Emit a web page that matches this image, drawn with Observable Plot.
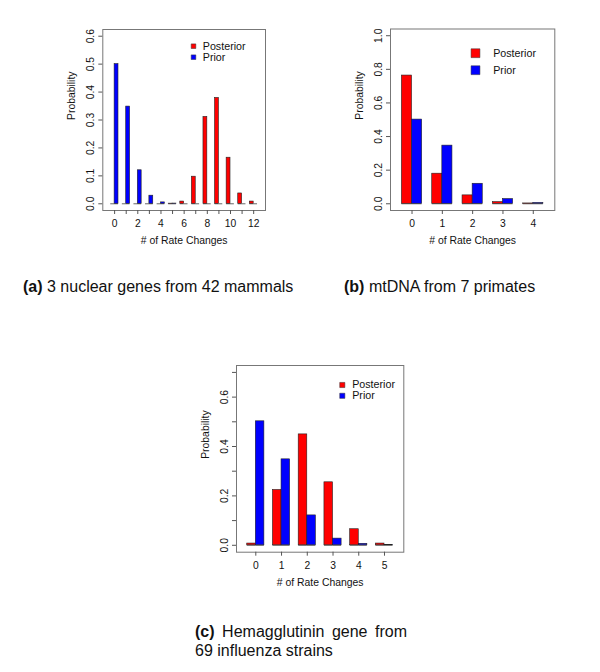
<!DOCTYPE html>
<html>
<head>
<meta charset="utf-8">
<script src="https://cdn.jsdelivr.net/npm/d3@7"></script>
<script src="https://cdn.jsdelivr.net/npm/@observablehq/plot@0.6"></script>
<style>
  html, body { margin: 0; padding: 0; background: #fff; }
  #root { position: relative; width: 600px; height: 672px; overflow: hidden;
          font-family: "Liberation Sans", Arial, Helvetica, sans-serif; color: #111; }
  .panel { position: absolute; }
  .cap { position: absolute; font-size: 16px; line-height: 19px; white-space: nowrap; }
  .cap b { font-weight: bold; }
  .just { text-align: justify; text-align-last: justify; white-space: normal; }
</style>
</head>
<body>
<div id="root"></div>
<script>
// ---------- data ----------
const seriesNames = ["Posterior", "Prior"];
const seriesColors = ["#ff0000", "#0000ff"];
const xTitle = "# of Rate Changes";
const yTitle = "Probability";

// (a) 3 nuclear genes from 42 mammals
const changesA = [0, 1, 2, 3, 4, 5, 6, 7, 8, 9, 10, 11, 12];
const posteriorA = [0, 0, 0, 0, 0, 0.0005, 0.008, 0.097, 0.311, 0.379, 0.165, 0.037, 0.008];
const priorA = [0.5, 0.348, 0.12, 0.029, 0.005, 0.0008, 0, 0, 0, 0, 0, 0, 0];
const xLabelsA = [0, 2, 4, 6, 8, 10, 12];
const yTicksA = [0, 0.1, 0.2, 0.3, 0.4, 0.5, 0.6];
const yLabelsA = [0, 0.1, 0.2, 0.3, 0.4, 0.5, 0.6];

// (b) mtDNA from 7 primates
const changesB = [0, 1, 2, 3, 4];
const posteriorB = [0.763, 0.179, 0.05, 0.01, 0.002];
const priorB = [0.501, 0.346, 0.119, 0.028, 0.005];
const xLabelsB = [0, 1, 2, 3, 4];
const yTicksB = [0, 0.2, 0.4, 0.6, 0.8, 1.0];
const yLabelsB = [0, 0.2, 0.4, 0.6, 0.8, 1.0];

// (c) Hemagglutinin gene from 69 influenza strains
const changesC = [0, 1, 2, 3, 4, 5];
const posteriorC = [0.007, 0.224, 0.449, 0.255, 0.065, 0.007];
const priorC = [0.502, 0.348, 0.121, 0.027, 0.006, 0.001];
const xLabelsC = [0, 1, 2, 3, 4, 5];
const yTicksC = [0, 0.1, 0.2, 0.3, 0.4, 0.5, 0.6, 0.7];
const yLabelsC = [0, 0.2, 0.4, 0.6];

const captionA = ["(a)", "3 nuclear genes from 42 mammals"];
const captionB = ["(b)", "mtDNA from 7 primates"];
const captionC = ["(c)", "Hemagglutinin gene from", "69 influenza strains"];

// ---------- helpers ----------
const FONT = "Liberation Sans, Arial, Helvetica, sans-serif";
const BW = 1 / 3; // bar width in category units

function rows(changes, post, prior) {
  const out = [];
  changes.forEach((k, i) => {
    out.push({k, s: seriesNames[0], v: post[i]});
    out.push({k, s: seriesNames[1], v: prior[i]});
  });
  return out;
}

function panel(cfg) {
  const data = rows(cfg.changes, cfg.post, cfg.prior);
  const x1 = d => d.s === seriesNames[0] ? d.k - BW : d.k;
  const x2 = d => d.s === seriesNames[0] ? d.k : d.k + BW;
  const legendMarks = seriesNames.flatMap((name, i) => [
    Plot.dot([name], {x: null, y: null, frameAnchor: "top-left",
      dx: cfg.leg.sqDx, dy: cfg.leg.dy0 + i * cfg.leg.step,
      symbol: "square", r: cfg.leg.r, fill: seriesColors[i], stroke: "#333", strokeWidth: 0.5}),
    Plot.text([name], {text: d => d, frameAnchor: "top-left",
      dx: cfg.leg.txDx, dy: cfg.leg.dy0 + i * cfg.leg.step,
      textAnchor: "start", lineAnchor: "middle", fontSize: 10.7, fill: "#111"})
  ]);
  return Plot.plot({
    width: cfg.width, height: cfg.height,
    marginLeft: cfg.m[0], marginRight: cfg.m[1], marginTop: cfg.m[2], marginBottom: cfg.m[3],
    style: {fontFamily: FONT, fontSize: "10px", color: "#111", background: "transparent"},
    x: {type: "linear", domain: cfg.xDomain},
    y: {domain: cfg.yDomain},
    color: {domain: seriesNames, range: seriesColors},
    marks: [
      Plot.ruleY(data, {x1, x2, y: 0, stroke: "#666", strokeWidth: 1}),
      Plot.rectY(data.filter(d => d.v > 0), {x1, x2, y1: 0, y2: "v", fill: "s", stroke: "#222", strokeWidth: 0.6}),
      Plot.frame({stroke: "#777", strokeWidth: 1}),
      Plot.axisY({ticks: cfg.yTicks, tickSize: 4, tickPadding: 5, tickRotate: -90,
        tickFormat: d => cfg.yLabels.includes(d) ? d.toFixed(1) : "", label: null, fontSize: 10.3, stroke: "#555"}),
      Plot.axisX({ticks: cfg.changes, tickSize: 4, tickPadding: 5,
        tickFormat: d => cfg.xLabels.includes(d) ? String(d) : "", label: null, fontSize: 10.3, stroke: "#555"}),
      Plot.text([xTitle], {text: d => d, frameAnchor: "bottom", dy: 30, lineAnchor: "middle", fontSize: 10.4, fill: "#111"}),
      Plot.text([yTitle], {text: d => d, frameAnchor: "left", dx: -31, rotate: -90, lineAnchor: "middle", fontSize: 10.4, fill: "#111"}),
      ...legendMarks
    ]
  });
}

function place(node, left, top) {
  const d = document.createElement("div");
  d.className = "panel";
  d.style.left = left + "px";
  d.style.top = top + "px";
  d.appendChild(node);
  document.getElementById("root").appendChild(d);
}

function captionLine(boldPart, rest, left, top, width) {
  const d = document.createElement("div");
  d.className = "cap" + (width ? " just" : "");
  d.style.left = left + "px";
  d.style.top = top + "px";
  if (width) d.style.width = width + "px";
  if (boldPart) {
    const b = document.createElement("b");
    b.textContent = boldPart;
    d.appendChild(b);
    d.appendChild(document.createTextNode(" "));
  }
  d.appendChild(document.createTextNode(rest));
  document.getElementById("root").appendChild(d);
}

// ---------- panels ----------
place(panel({
  changes: changesA, post: posteriorA, prior: priorA,
  xLabels: xLabelsA, yTicks: yTicksA, yLabels: yLabelsA,
  width: 290, height: 260, m: [102.3, 25, 29, 50],
  xDomain: [-1.02, 13.02], yDomain: [-0.024, 0.624],
  leg: {sqDx: 90.7, txDx: 100, dy0: 16.7, step: 11, r: 2.6}
}), 0, 0);

place(panel({
  changes: changesB, post: posteriorB, prior: priorB,
  xLabels: xLabelsB, yTicks: yTicksB, yLabels: yLabelsB,
  width: 300, height: 260, m: [90, 45.7, 28.5, 50],
  xDomain: [-0.71, 4.71], yDomain: [-0.04, 1.04],
  leg: {sqDx: 85, txDx: 102.7, dy0: 24.2, step: 17, r: 5}
}), 300, 0);

place(panel({
  changes: changesC, post: posteriorC, prior: priorC,
  xLabels: xLabelsC, yTicks: yTicksC, yLabels: yLabelsC,
  width: 300, height: 270, m: [86, 46.7, 25, 58.3],
  xDomain: [-0.75, 5.75], yDomain: [-0.028, 0.728],
  leg: {sqDx: 105.8, txDx: 115.7, dy0: 19.5, step: 10.8, r: 2.9}
}), 150, 340);

captionLine(captionA[0], captionA[1], 23, 277);
captionLine(captionB[0], captionB[1], 344, 277);
captionLine(captionC[0], captionC[1], 195, 621.5, 212);
captionLine(null, captionC[2], 195, 640.5);
</script>
</body>
</html>
